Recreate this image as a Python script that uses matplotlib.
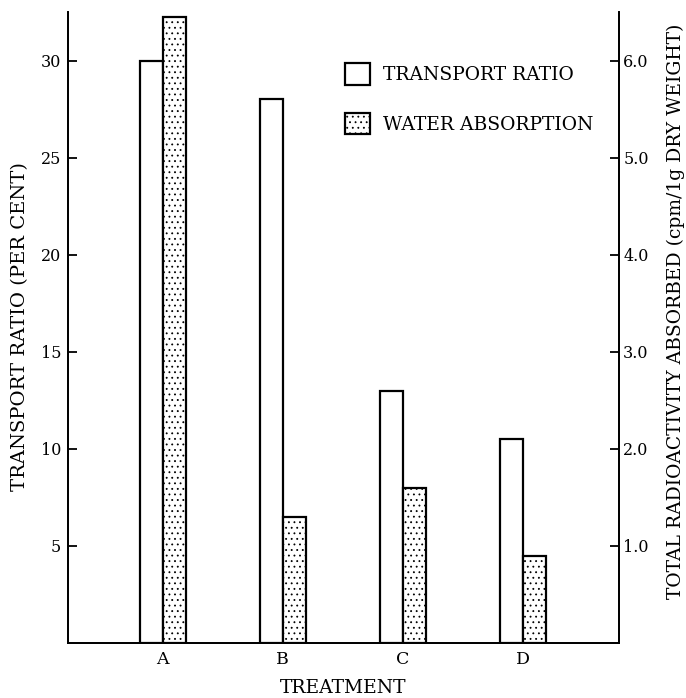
import matplotlib.pyplot as plt
import numpy as np

plt.rcParams['font.family'] = ['DejaVu Serif']
plt.rcParams['hatch.linewidth'] = 0.6

treatments = ['A', 'B', 'C', 'D']
transport_ratio = [30.0, 28.0, 13.0, 10.5]       # per cent (left axis)
water_absorption = [6.45, 1.3, 1.6, 0.9]         # cpm/1g dry weight (right axis)
left_ticks = [5, 10, 15, 20, 25, 30]
right_ticks = [1.0, 2.0, 3.0, 4.0, 5.0, 6.0]

fig = plt.figure(figsize=(6.86, 6.98), dpi=100)
ax = fig.add_axes([0.0991, 0.0788, 0.8032, 0.904])
ax2 = ax.twinx()

x = np.arange(len(treatments))
w = 0.194
b1 = ax.bar(x - w / 2, transport_ratio, w, facecolor='white', edgecolor='black',
            linewidth=1.6, label='TRANSPORT RATIO', zorder=3)
b2 = ax2.bar(x + w / 2, water_absorption, w, facecolor='white', edgecolor='black',
             linewidth=1.6, hatch='...', label='WATER ABSORPTION', zorder=3)

ax.set_xlim(-0.79, 3.8)
ax.set_ylim(0, 32.5)
ax2.set_ylim(0, 6.5)

ax.set_yticks(left_ticks)
ax.set_yticklabels([str(t) for t in left_ticks])
ax2.set_yticks(right_ticks)
ax2.set_yticklabels([f'{t:.1f}' for t in right_ticks])
ax.set_xticks(x)
ax.set_xticklabels(treatments)

for a in (ax, ax2):
    a.spines['top'].set_visible(False)
    for s in a.spines.values():
        s.set_linewidth(1.3)
ax.tick_params(axis='y', direction='in', length=6.5, width=1.3, pad=5, labelsize=11.5)
ax2.tick_params(axis='y', direction='in', length=6.5, width=1.3, pad=3, labelsize=11.5)
ax.tick_params(axis='x', length=0, pad=6, labelsize=12.5)

ax.set_xlabel('TREATMENT', fontsize=13.5, labelpad=8)
ax.set_ylabel('TRANSPORT RATIO (PER CENT)', fontsize=14)
ax.yaxis.set_label_coords(-0.071, 0.502)
ax2.set_ylabel('TOTAL RADIOACTIVITY ABSORBED (cpm/1g DRY WEIGHT)', fontsize=13.5)
ax2.yaxis.set_label_coords(1.087, 0.525)

leg = ax2.legend([b1, b2], ['TRANSPORT RATIO', 'WATER ABSORPTION'],
                 loc='upper left', bbox_to_anchor=(345 / 686, 1 - 63 / 698),
                 bbox_transform=fig.transFigure, frameon=False,
                 fontsize=13.5, handlelength=1.33, handleheight=1.4,
                 labelspacing=1.5, handletextpad=0.7, borderaxespad=0, borderpad=0)

fig.savefig('out.png', dpi=100)
